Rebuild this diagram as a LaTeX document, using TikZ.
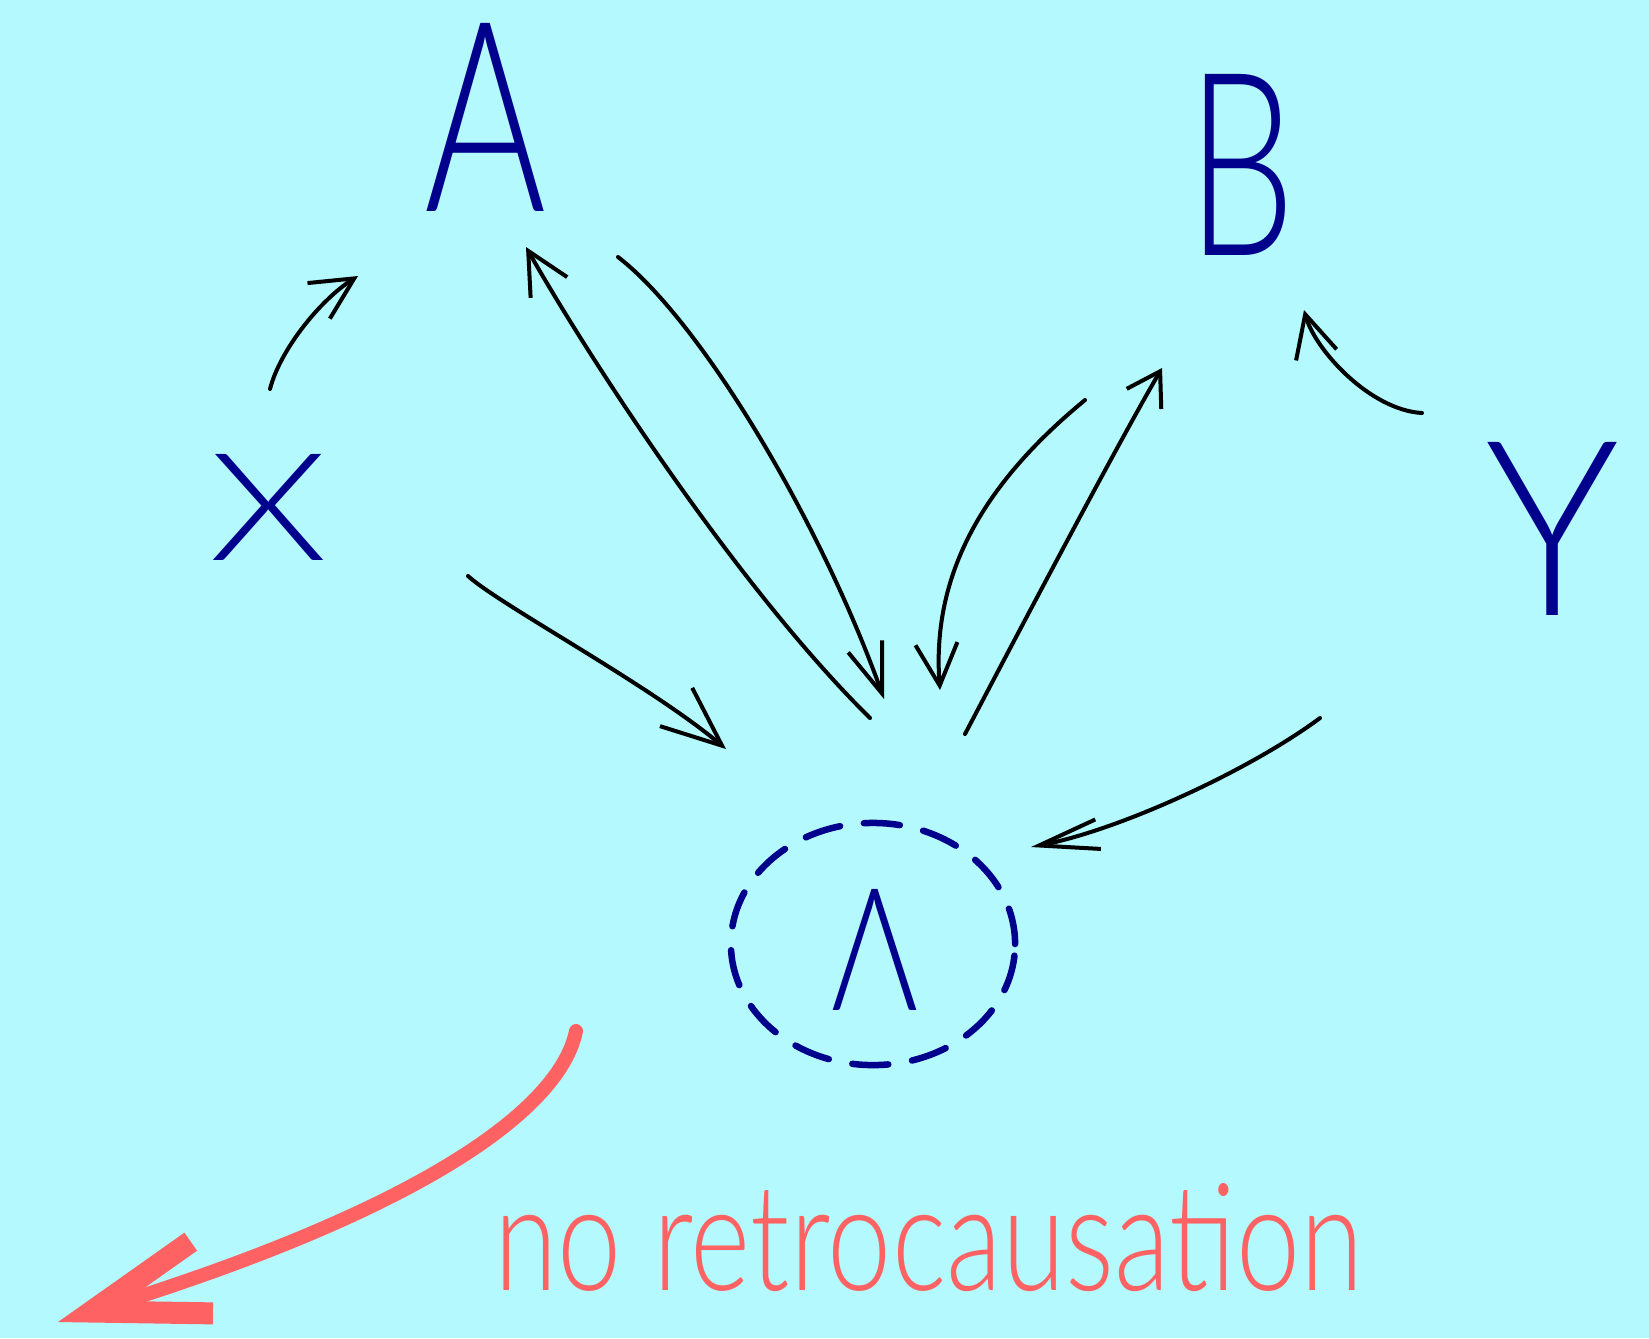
\documentclass[tikz,border=0pt]{standalone}
\usepackage{fontspec}
\usetikzlibrary{arrows.meta,shapes.geometric}
\IfFontExistsTF{Lato Light}{\newfontfamily\handlight{Lato Light}}{\newfontfamily\handlight{Lato}}
\definecolor{bg}{HTML}{B3F9FD}
\definecolor{ink}{HTML}{00008C}
\definecolor{pen}{HTML}{FF6262}
\tikzset{
  letter/.style={text=ink, inner sep=0pt},
  conn/.style={draw=black, line width=0.04cm, line cap=round,
    -{Straight Barb[length=0.42cm,width=0.42cm]}},
}
\begin{document}
\begin{tikzpicture}[x=0.01cm,y=-0.01cm]
\fill[bg] (0,0) rectangle (1649,1338);
\useasboundingbox (0,0) rectangle (1649,1338);

% letters
\node[letter] (A) at (486,117) {\resizebox{1.22cm}{1.88cm}{\handlight A}};
\node[letter] (B) at (1242,165) {\resizebox{1.08cm}{1.81cm}{\handlight B}};
\node[letter] (X) at (269,507) {\resizebox{1.18cm}{1.06cm}{\handlight X}};
\node[letter] (Y) at (1553,529) {\resizebox{1.34cm}{1.73cm}{\handlight Y}};
\node[ellipse, draw=ink, line width=0.065cm, line cap=round,
      dash pattern=on 0.36cm off 0.24cm,
      minimum width=2.84cm, minimum height=2.42cm] (lamc) at (873,944) {};
\node[letter] (lam) at (875,950) {\resizebox{0.87cm}{1.21cm}{\handlight Λ}};
\node[text=pen, anchor=base west, inner sep=0pt] (note) at (494,1290)
      {\resizebox{8.68cm}{1.07cm}{\handlight no retrocausation}};

% connector end points
\coordinate (xa1) at (270,389);  \coordinate (xa2) at (358,276);
\coordinate (xl1) at (468,576);  \coordinate (xl2) at (726,749);
\coordinate (la1) at (870,718);  \coordinate (la2) at (526,247);
\coordinate (al1) at (618,257);  \coordinate (al2) at (884,699);
\coordinate (bl1) at (1085,400); \coordinate (bl2) at (940,690);
\coordinate (lb1) at (965,734);  \coordinate (lb2) at (1162,368);
\coordinate (yb1) at (1422,413); \coordinate (yb2) at (1304,310);
\coordinate (yl1) at (1320,718); \coordinate (yl2) at (1031,847);
\coordinate (r1) at (576,1031);  \coordinate (r2) at (58,1322);

% connectors
\draw[conn] (xa1) .. controls (280,350) and (320,300) .. (xa2);
\draw[conn, -{Straight Barb[length=0.6cm,width=0.5cm]}] (xl1) .. controls (500,605) and (650,685) .. (xl2);
\draw[conn] (la1) .. controls (740,590) and (590,360) .. (la2);
\draw[conn, -{Straight Barb[length=0.5cm,width=0.36cm]}] (al1) .. controls (700,320) and (820,520) .. (al2);
\draw[conn] (bl1) .. controls (1000,470) and (930,560) .. (bl2);
\draw[conn, -{Straight Barb[length=0.32cm,width=0.4cm]}] (lb1) .. controls (1030,610) and (1120,440) .. (lb2);
\draw[conn] (yb1) .. controls (1370,410) and (1315,350) .. (yb2);
\draw[conn, -{Straight Barb[length=0.6cm,width=0.3cm]}] (yl1) .. controls (1250,770) and (1120,830) .. (yl2);

% red arrow
\draw[pen, line width=0.14cm, line cap=round, line join=round,
      -{Straight Barb[length=1.15cm,width=0.75cm,line width=0.22cm]}]
      (r1) .. controls (560,1110) and (420,1210) .. (r2);
\end{tikzpicture}
\end{document}
